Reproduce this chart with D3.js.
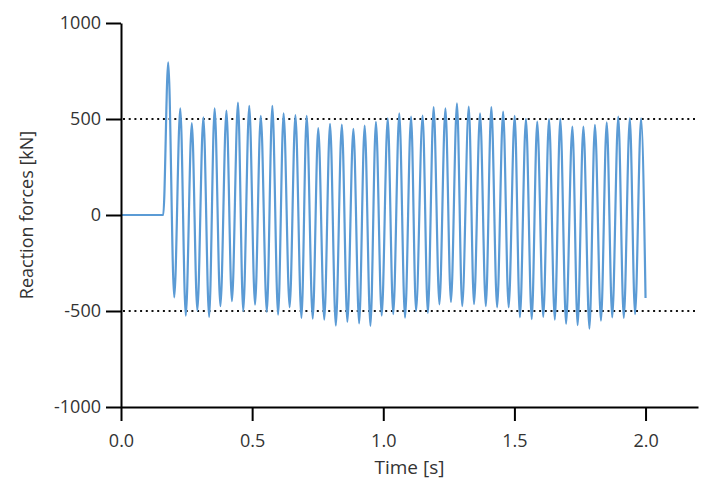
<!DOCTYPE html>
<html>
<head>
<meta charset="utf-8">
<script src="https://cdn.jsdelivr.net/npm/d3@7"></script>
<style>
body { margin: 0; background: #fff; }
text { font-family: "Open Sans", sans-serif; }
</style>
</head>
<body>
<div class="chart"></div>
<script>
const xTicks = [0, 0.5, 1.0, 1.5, 2.0];
const yTicks = [-1000, -500, 0, 500, 1000];
const refLines = [500, -500];

// flat part before the impact
const startTimes = [0, 0.161];
const startValues = [0, 0];

const peakTimes = [0.180, 0.226, 0.270, 0.314, 0.357, 0.402, 0.446, 0.489, 0.533, 0.577,
    0.620, 0.665, 0.708, 0.752, 0.797, 0.842, 0.886, 0.929, 0.972, 1.017,
    1.061, 1.106, 1.150, 1.192, 1.237, 1.281, 1.326, 1.369, 1.412, 1.457,
    1.501, 1.544, 1.587, 1.632, 1.675, 1.721, 1.763, 1.807, 1.852, 1.896,
    1.940, 1.983];
const peakValues = [795, 556, 478, 508, 556, 544, 586, 569, 517, 569,
    530, 520, 517, 452, 475, 471, 449, 466, 485, 503,
    530, 512, 518, 562, 556, 582, 565, 530, 562, 539,
    517, 501, 487, 499, 501, 461, 461, 470, 482, 513,
    503, 503];

const troughTimes = [0.203, 0.247, 0.291, 0.336, 0.379, 0.423, 0.466, 0.511, 0.556, 0.599,
    0.643, 0.688, 0.731, 0.775, 0.819, 0.863, 0.908, 0.951, 0.994, 1.038,
    1.083, 1.125, 1.170, 1.214, 1.258, 1.301, 1.346, 1.391, 1.434, 1.478,
    1.521, 1.566, 1.610, 1.654, 1.697, 1.741, 1.786, 1.830, 1.873, 1.917,
    1.960];
const troughValues = [-429, -524, -498, -531, -475, -449, -501, -467, -505, -519,
    -481, -536, -540, -545, -576, -556, -564, -577, -524, -516,
    -534, -500, -510, -465, -453, -475, -464, -475, -481, -481,
    -533, -542, -531, -545, -566, -574, -592, -550, -533, -536,
    -516];

const endTime = 2.0;
const endValue = -432;

const W = 705, H = 491;
const margin = { top: 23, right: 7, bottom: 84, left: 121 };

let data = [];
startTimes.forEach((t, i) => data.push({ t: t, v: startValues[i] }));
peakTimes.forEach((t, i) => {
    data.push({ t: t, v: peakValues[i] });
    if (i < troughTimes.length) data.push({ t: troughTimes[i], v: troughValues[i] });
});
data.push({ t: endTime, v: endValue });

const svg = d3.select(".chart")
    .append("svg")
    .attr("width", W)
    .attr("height", H);

const x = d3.scaleLinear().domain([0, 2.2]).range([margin.left, W - margin.right]);
const y = d3.scaleLinear().domain([-1000, 1000]).range([H - margin.bottom, margin.top]);

// dotted reference lines
svg.selectAll(".ref")
    .data(refLines)
    .enter()
    .append("line")
    .attr("class", "ref")
    .attr("x1", x(0) + 2)
    .attr("x2", x(2.2))
    .attr("y1", d => y(d))
    .attr("y2", d => y(d))
    .attr("stroke", "#111")
    .attr("stroke-width", 2)
    .attr("stroke-dasharray", "2,3.7");

// signal
svg.append("path")
    .datum(data)
    .attr("fill", "none")
    .attr("stroke", "#5b9bd5")
    .attr("stroke-width", 2.2)
    .attr("stroke-linejoin", "round")
    .attr("d", d3.line()
        .x(d => x(d.t))
        .y(d => y(d.v))
        .curve(d3.curveMonotoneX));

// axes
const xAxis = svg.append("g")
    .attr("transform", "translate(0," + y(-1000) + ")")
    .call(d3.axisBottom(x)
        .tickValues(xTicks)
        .tickSize(14)
        .tickSizeOuter(0)
        .tickPadding(13)
        .tickFormat(d3.format(".1f")));

const yAxis = svg.append("g")
    .attr("transform", "translate(" + x(0) + ",0)")
    .call(d3.axisLeft(y)
        .tickValues(yTicks)
        .tickSize(15)
        .tickSizeOuter(0)
        .tickPadding(5)
        .tickFormat(d => String(d)));

[xAxis, yAxis].forEach(g => {
    g.select(".domain").attr("stroke", "#000").attr("stroke-width", 2);
    g.selectAll(".tick line").attr("stroke", "#000").attr("stroke-width", 2);
    g.selectAll(".tick text")
        .attr("fill", "#333")
        .style("font-size", "18px")
        .style("font-family", "'Open Sans', sans-serif");
});

// axis titles
svg.append("text")
    .attr("x", (x(0) + x(2.2)) / 2)
    .attr("y", 474)
    .attr("text-anchor", "middle")
    .attr("fill", "#333")
    .style("font-size", "19px")
    .text("Time [s]");

svg.append("text")
    .attr("transform", "translate(33," + y(0) + ") rotate(-90)")
    .attr("text-anchor", "middle")
    .attr("fill", "#333")
    .style("font-size", "18px")
    .text("Reaction forces [kN]");
</script>
</body>
</html>
